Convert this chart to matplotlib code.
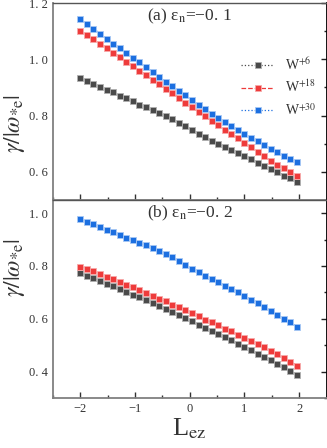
import numpy as np
import matplotlib
matplotlib.use('Agg')
import matplotlib.pyplot as plt
from matplotlib.ticker import MultipleLocator, FixedLocator, FixedFormatter

plt.rcParams['font.family'] = ['Liberation Serif', 'DejaVu Serif']
plt.rcParams['mathtext.fontset'] = 'stix'

# L_ez grid (34 points)
L_ez = np.linspace(-2, 1.96, 34)

# (a) eps_n = -0.1
top_w6 = [0.932, 0.923, 0.911, 0.901, 0.891, 0.882, 0.870, 0.861, 0.850, 0.839,
          0.829, 0.819, 0.808, 0.798, 0.787, 0.775, 0.763, 0.749, 0.736, 0.723,
          0.711, 0.699, 0.690, 0.677, 0.666, 0.657, 0.644, 0.633, 0.621, 0.611,
          0.601, 0.587, 0.577, 0.565]
top_w18 = [1.099, 1.085, 1.071, 1.056, 1.040, 1.024, 1.008, 0.992, 0.976, 0.960,
           0.944, 0.928, 0.911, 0.896, 0.879, 0.864, 0.846, 0.830, 0.813, 0.797,
           0.781, 0.766, 0.749, 0.734, 0.719, 0.703, 0.687, 0.671, 0.655, 0.639,
           0.625, 0.612, 0.599, 0.585]
top_w30 = [1.143, 1.126, 1.109, 1.091, 1.073, 1.056, 1.039, 1.022, 1.006, 0.989,
           0.973, 0.955, 0.937, 0.921, 0.904, 0.889, 0.872, 0.854, 0.837, 0.823,
           0.807, 0.792, 0.777, 0.762, 0.748, 0.734, 0.721, 0.708, 0.695, 0.682,
           0.669, 0.657, 0.645, 0.635]

# (b) eps_n = -0.2
bot_w6 = [0.773, 0.764, 0.754, 0.743, 0.733, 0.723, 0.712, 0.702, 0.692, 0.682,
          0.671, 0.660, 0.649, 0.638, 0.627, 0.615, 0.602, 0.590, 0.578, 0.566,
          0.555, 0.542, 0.531, 0.518, 0.506, 0.494, 0.482, 0.468, 0.456, 0.443,
          0.429, 0.416, 0.403, 0.386]
bot_w18 = [0.798, 0.790, 0.780, 0.770, 0.758, 0.749, 0.739, 0.728, 0.719, 0.709,
           0.698, 0.686, 0.676, 0.666, 0.654, 0.644, 0.634, 0.622, 0.610, 0.597,
           0.586, 0.575, 0.563, 0.552, 0.539, 0.528, 0.517, 0.504, 0.493, 0.479,
           0.465, 0.451, 0.438, 0.423]
bot_w30 = [0.977, 0.967, 0.958, 0.946, 0.938, 0.929, 0.918, 0.907, 0.899, 0.887,
           0.878, 0.868, 0.858, 0.847, 0.833, 0.819, 0.805, 0.790, 0.777, 0.764,
           0.752, 0.739, 0.726, 0.713, 0.700, 0.686, 0.673, 0.660, 0.644, 0.630,
           0.615, 0.601, 0.586, 0.570]

labels = [r'W$^{+6}$', r'W$^{+18}$', r'W$^{+30}$']
colors = ['#4a4a4a', '#ee3b3b', '#1c6fe0']
edges = ['#b0b0b0', '#f7aaaa', '#a8c8f4']
styles = [':', '--', ':']

x_ticks = [-2, -1, 0, 1, 2]
x_ticklabels = ['\u22122', '\u22121', '0', '1', '2']
top_yticks = [0.6, 0.8, 1.0, 1.2]
top_yticklabels = ['0. 6', '0. 8', '1. 0', '1. 2']
bot_yticks = [0.4, 0.6, 0.8, 1.0]
bot_yticklabels = ['0. 4', '0. 6', '0. 8', '1. 0']
titles = ['(a) \u03b5$_{\\mathrm{n}}$=\u22120. 1', '(b) \u03b5$_{\\mathrm{n}}$=\u22120. 2']

fig = plt.figure(figsize=(3.27, 4.48), dpi=100)
ax1 = fig.add_axes([53/327, 1-200/448, 273.5/327, 197/448])
ax2 = fig.add_axes([53/327, 1-398/448, 273.5/327, 198/448])

def style_axes(ax, yticks, yticklabels, ylim):
    ax.set_xlim(-2.5, 2.5)
    ax.set_ylim(*ylim)
    ax.xaxis.set_major_locator(FixedLocator(x_ticks))
    ax.xaxis.set_minor_locator(MultipleLocator(0.5))
    ax.yaxis.set_major_locator(FixedLocator(yticks))
    ax.yaxis.set_major_formatter(FixedFormatter(yticklabels))
    ax.yaxis.set_minor_locator(MultipleLocator(0.1))
    ax.tick_params(axis='x', which='both', direction='in', top=False, bottom=True,
                   color='#333333')
    ax.tick_params(axis='x', which='major', length=4, width=1)
    ax.tick_params(axis='x', which='minor', length=2, width=1)
    ax.tick_params(axis='y', which='both', direction='in', left=False, right=True,
                   labelleft=True, color='#222222')
    ax.tick_params(axis='y', which='major', length=4, width=1)
    ax.tick_params(axis='y', which='minor', length=2, width=1)
    ax.tick_params(labelsize=9, labelcolor='#333333')
    for s in ['left', 'bottom']:
        ax.spines[s].set_color('#808080')
        ax.spines[s].set_linewidth(1.3)
    ax.spines['right'].set_color('black')
    ax.spines['right'].set_linewidth(1.3)
    ax.spines['top'].set_color('#555555')
    ax.spines['top'].set_linewidth(1.0)

for ax, series in [(ax1, [top_w6, top_w18, top_w30]), (ax2, [bot_w6, bot_w18, bot_w30])]:
    for y, lab, c, ec, ls in zip(series, labels, colors, edges, styles):
        ax.plot(L_ez, y, linestyle=ls, linewidth=0.9, color=c, marker='s',
                markersize=4.2, markerfacecolor=c, markeredgecolor=ec,
                markeredgewidth=0.6, label=lab)

style_axes(ax1, top_yticks, top_yticklabels, (0.5, 1.2))
style_axes(ax2, bot_yticks, bot_yticklabels, (0.3, 1.05))
ax1.tick_params(axis='x', labelbottom=False)
ax2.xaxis.set_major_formatter(FixedFormatter(x_ticklabels))

for ax, t in zip([ax1, ax2], titles):
    ax.text(0.5, 0.93, t, transform=ax.transAxes, ha='center', va='center',
            fontsize=12.5, color='#333333')

ylab = r'$\gamma/|\omega_{*\mathrm{e}}|$'
for ax, yc in [(ax1, 0.39), (ax2, 0.66)]:
    ax.set_ylabel(ylab, fontsize=17, color='#333333')
    ax.yaxis.set_label_coords(-0.095, yc)
ax2.set_xlabel(r'L$_{\mathrm{ez}}$', fontsize=19, color='#333333', labelpad=1)

leg = ax1.legend(loc='upper right', bbox_to_anchor=(1.0, 0.78), frameon=False,
                 fontsize=10, handlelength=2.4, labelspacing=0.45, handletextpad=0.8,
                 borderaxespad=0.3)
for t in leg.get_texts():
    t.set_color('#333333')

fig.savefig('out.png', dpi=100)
